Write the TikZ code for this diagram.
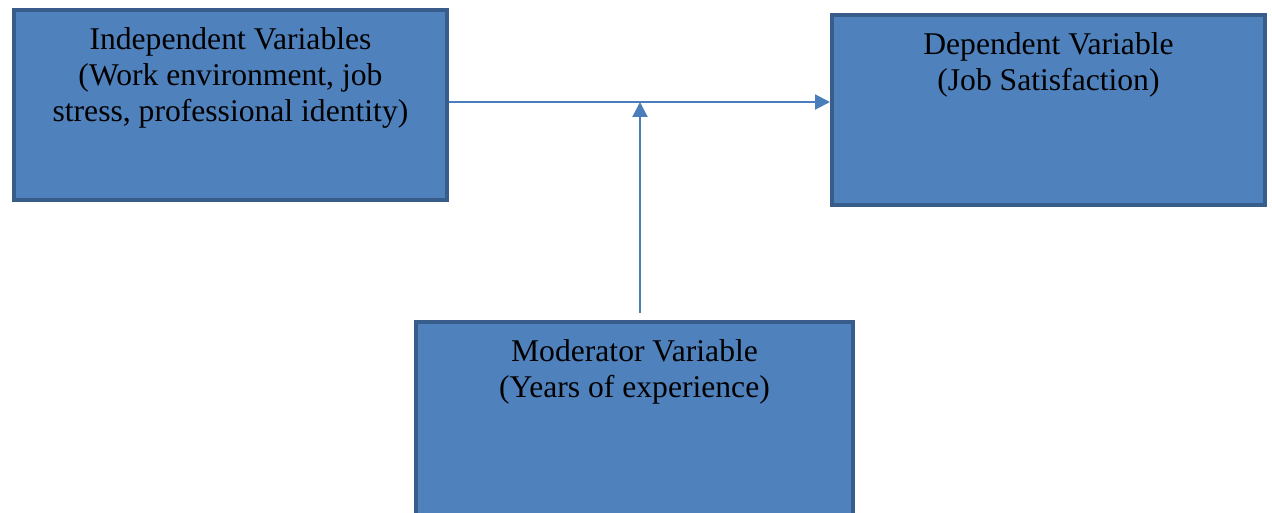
\documentclass[tikz,border=0pt]{standalone}
\usepackage{fontspec}
\setmainfont{Liberation Serif}
\usetikzlibrary{arrows.meta, positioning, calc}
\definecolor{caixaAzul}{HTML}{4F81BD}
\definecolor{bordaAzul}{HTML}{385D8A}
\definecolor{setaAzul}{HTML}{4A7EBB}

\begin{document}
\begin{tikzpicture}[
    x=0.02cm, y=-0.02cm,
    varbox/.style={
        draw=bordaAzul,
        fill=caixaAzul,
        line width=2.3pt,
        align=center,
        anchor=north west,
        font=\fontsize{18}{20.5}\selectfont,
        minimum width=8.66cm,
        minimum height=3.8cm,
        inner ysep=10pt,
        text depth=#1
    },
    varbox/.default=55pt,
    link/.style={
        -{Triangle[length=8.5pt, width=8.5pt]},
        line width=1.2pt,
        draw=setaAzul,
        fill=setaAzul
    }
]
\useasboundingbox (0,0) rectangle (1272,512);

\node[varbox=34.5pt] (indep) at (12,8)
{Independent Variables\\
(Work environment, job\\
stress, professional identity)};

\node[varbox] (dep) at (830,13)
{Dependent Variable\\
(Job Satisfaction)};

% caixa de baixo passa da margem inferior
\node[varbox=62pt, minimum width=8.74cm] (mod) at (414,320)
{Moderator Variable\\
(Years of experience)};

\coordinate (meet) at (640,102);

\draw[link] (indep.east |- meet) -- (meet -| dep.west);
\draw[link] ([yshift=4pt]meet |- mod.north) -- (meet);

\end{tikzpicture}
\end{document}
